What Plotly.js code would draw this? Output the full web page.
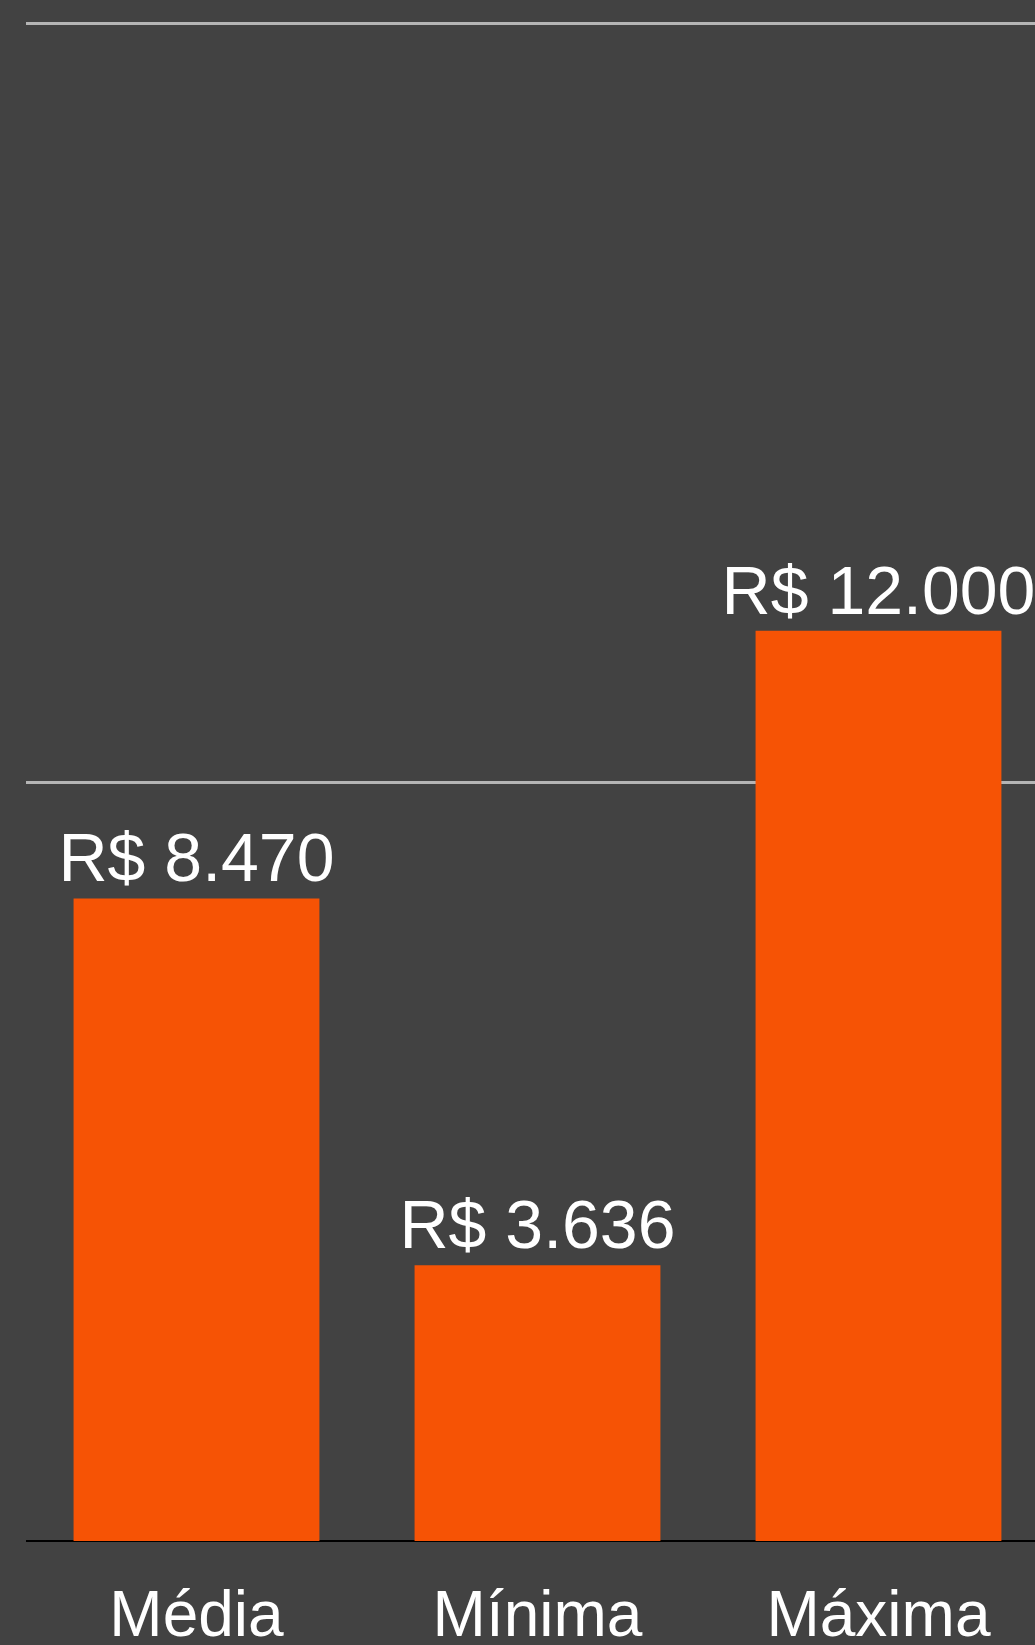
<!DOCTYPE html>
<html>
<head>
<meta charset="utf-8">
<script src="https://cdn.plot.ly/plotly-3.0.1.min.js"></script>
<style>
html,body{margin:0;padding:0;background:#424242;}
#chart{width:1035px;height:1645px;}
</style>
</head>
<body>
<div id="chart"></div>
<script>
const categories = ["Média", "Mínima", "Máxima"];
const values = [8470, 3636, 12000];
const valueLabels = ["R$ 8.470", "R$ 3.636", "R$ 12.000"];

const trace = {
  type: "bar",
  x: categories,
  y: values,
  text: valueLabels,
  textposition: "outside",
  textfont: {family: "Liberation Sans, Arial, sans-serif", size: 68, color: "#ffffff"},
  constraintext: "none",
  cliponaxis: false,
  marker: {color: "#f65305", line: {width: 0}},
  hoverinfo: "none"
};

const layout = {
  width: 1035,
  height: 1645,
  paper_bgcolor: "#424242",
  plot_bgcolor: "#424242",
  margin: {l: 26, r: 0, t: 20, b: 104, pad: 0},
  bargap: 0.279,
  showlegend: false,
  xaxis: {
    type: "category",
    categoryarray: categories,
    range: [-0.5, 2.459],
    showgrid: false,
    showline: false,
    zeroline: false,
    ticks: "",
    tickfont: {family: "Liberation Sans, Arial, sans-serif", size: 64, color: "#ffffff"},
    ticklabelstandoff: 30
  },
  yaxis: {
    range: [0, 20050],
    tick0: 0,
    dtick: 10000,
    showticklabels: false,
    ticks: "",
    showgrid: true,
    gridcolor: "#b5b5b5",
    gridwidth: 3,
    zeroline: true,
    zerolinecolor: "#000000",
    zerolinewidth: 2,
    showline: false
  }
};

Plotly.newPlot("chart", [trace], layout, {staticPlot: true, displayModeBar: false});
</script>
</body>
</html>
